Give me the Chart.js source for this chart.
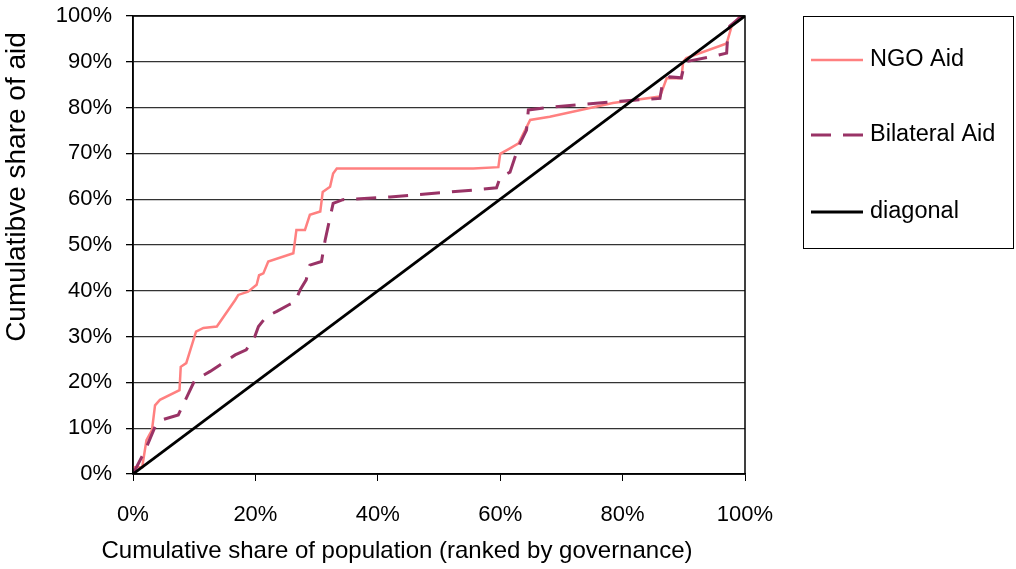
<!DOCTYPE html>
<html lang="en">
<head>
  <meta charset="UTF-8" />
  <title>Cumulative share of aid vs population</title>
  <script src="https://cdn.jsdelivr.net/npm/chart.js"></script>
  <style>
    html, body {
      margin: 0;
      padding: 0;
      background: #fff;
    }
  </style>
</head>
<body>
  <canvas id="aidChart" width="1016" height="569"></canvas>

  <script>
    // values (percent)
    const ngoX = [0, 1.5, 2.2, 3.1, 3.6, 4.4, 7.6, 7.8, 8.7, 10.3, 11.5, 13.7, 16.7, 17.2, 18.8, 20.2, 20.6, 21.3, 22.1, 26.2, 26.7, 28.1, 28.9, 30.6, 31, 32.2, 32.7, 33.3, 55.6, 59.7, 60, 61.6, 63, 64.9, 68.1, 78.4, 86.1, 87.2, 89.6, 89.9, 90.4, 97, 97.8, 99.2, 100];
    const ngoY = [1.5, 1.5, 7.4, 9.6, 15, 16.2, 18.3, 23.4, 24.2, 31.1, 31.9, 32.2, 38, 39.1, 39.8, 41.3, 43.4, 43.8, 46.4, 48.2, 53.3, 53.3, 56.6, 57.3, 61.6, 62.7, 65.6, 66.7, 66.7, 67, 69.9, 71.1, 72.2, 77.3, 78, 81, 82.4, 86.4, 86.4, 90, 90.8, 94, 97.7, 100, 100];

    const bilatX = [0, 2, 3.6, 4.7, 7.4, 10.1, 12.6, 14.2, 16.7, 18.5, 19.9, 20.5, 21.8, 23.5, 25.4, 26.5, 27.3, 28.3, 28.9, 30.8, 31.4, 32.7, 34.3, 42, 55.6, 59.4, 60, 61.6, 63, 64.3, 64.6, 68.1, 79.6, 86.1, 86.5, 87.7, 89.6, 90.2, 94.8, 97, 97.2, 97.5, 99.4, 100];
    const bilatY = [0, 5.2, 10.3, 11.8, 12.9, 20.5, 22.4, 23.8, 26, 27.1, 30, 32.2, 34.4, 35.5, 36.9, 37.6, 40.2, 42.4, 45.6, 46.4, 51.1, 59.1, 59.9, 60.5, 62, 62.5, 64.8, 65.9, 71.5, 75.1, 79.5, 80.1, 81.4, 82, 85.2, 86.7, 86.5, 90, 91.2, 91.9, 96.2, 97.8, 99.9, 100];

    const diagX = [0, 100];
    const diagY = [0, 100];

    const seriesNames = ["NGO Aid", "Bilateral Aid", "diagonal"];
    const xTitle = "Cumulative share of population (ranked by governance)";
    const yTitle = "Cumulatibve share of aid";

    const toPoints = (xs, ys) => xs.map((x, i) => ({ x: x, y: ys[i] }));

    const textFont = '"Liberation Sans", Arial, sans-serif';

    // axis titles, frame and boxed legend drawn by hand
    const extras = {
      id: "extras",
      afterDraw(chart) {
        const ctx = chart.ctx;
        const a = chart.chartArea;
        ctx.save();

        ctx.strokeStyle = "#000";
        ctx.lineWidth = 1.5;
        ctx.strokeRect(a.left, a.top, a.right - a.left, a.bottom - a.top);

        ctx.fillStyle = "#000";
        ctx.textBaseline = "middle";
        ctx.textAlign = "center";
        ctx.font = "24px " + textFont;
        ctx.fillText(xTitle, 397, 551);

        ctx.save();
        ctx.translate(17, 187);
        ctx.rotate(-Math.PI / 2);
        ctx.font = "28px " + textFont;
        ctx.fillText(yTitle, 0, 0);
        ctx.restore();

        // legend
        ctx.lineWidth = 1;
        ctx.strokeStyle = "#000";
        ctx.strokeRect(803.5, 16.5, 210, 232);
        const rows = [60, 135, 212];
        ctx.font = "23.5px " + textFont;
        ctx.textAlign = "left";
        chart.data.datasets.forEach((ds, i) => {
          ctx.beginPath();
          ctx.strokeStyle = ds.borderColor;
          ctx.lineWidth = ds.borderWidth;
          ctx.setLineDash(ds.borderDash || []);
          ctx.moveTo(811, rows[i]);
          ctx.lineTo(863, rows[i]);
          ctx.stroke();
          ctx.setLineDash([]);
          ctx.fillStyle = "#000";
          ctx.fillText(ds.label, 870, rows[i]);
        });

        ctx.restore();
      }
    };

    new Chart(document.getElementById("aidChart"), {
      type: "line",
      data: {
        datasets: [
          {
            label: seriesNames[0],
            data: toPoints(ngoX, ngoY),
            borderColor: "#FF8080",
            borderWidth: 2.5,
            order: 2
          },
          {
            label: seriesNames[1],
            data: toPoints(bilatX, bilatY),
            borderColor: "#993366",
            borderWidth: 3,
            borderDash: [20, 12],
            order: 1
          },
          {
            label: seriesNames[2],
            data: toPoints(diagX, diagY),
            borderColor: "#000000",
            borderWidth: 2.8,
            order: 0
          }
        ]
      },
      options: {
        responsive: false,
        animation: false,
        devicePixelRatio: 1,
        layout: { padding: { left: 0, right: 271, top: 16, bottom: 0 } },
        elements: {
          point: { radius: 0 },
          line: { tension: 0, fill: false }
        },
        plugins: {
          legend: { display: false },
          tooltip: { enabled: false }
        },
        scales: {
          x: {
            type: "linear",
            min: 0,
            max: 100,
            afterFit: s => {
              s.height = 95;
              s.paddingLeft = 0;
              s.paddingRight = 0;
            },
            ticks: {
              stepSize: 20,
              padding: 21,
              color: "#000",
              font: { family: textFont, size: 22 },
              callback: v => v + "%"
            },
            grid: {
              drawOnChartArea: false,
              tickLength: 7,
              tickColor: "#000"
            },
            border: { color: "#000", width: 1.5 }
          },
          y: {
            min: 0,
            max: 100,
            afterFit: s => {
              s.width = 133;
              s.paddingTop = 0;
              s.paddingBottom = 0;
            },
            ticks: {
              stepSize: 10,
              padding: 14,
              color: "#000",
              font: { family: textFont, size: 22 },
              callback: v => v + "%"
            },
            grid: {
              color: "#333",
              lineWidth: 1.3,
              tickLength: 7,
              tickColor: "#000"
            },
            border: { color: "#000", width: 1.5 }
          }
        }
      },
      plugins: [extras]
    });
  </script>
</body>
</html>
